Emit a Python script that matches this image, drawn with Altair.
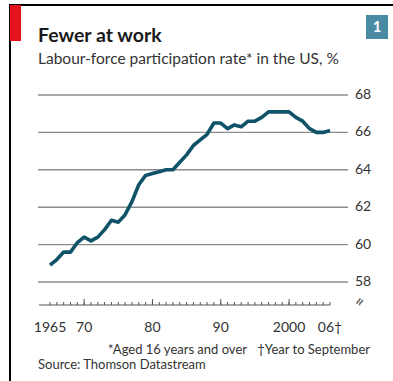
import altair as alt
import pandas as pd

years = list(range(1965, 2007))
rate = [58.9, 59.2, 59.6, 59.6, 60.1, 60.4, 60.2, 60.4, 60.8, 61.3,
        61.2, 61.6, 62.3, 63.2, 63.7, 63.8, 63.9, 64.0, 64.0, 64.4,
        64.8, 65.3, 65.6, 65.9, 66.5, 66.5, 66.2, 66.4, 66.3, 66.6,
        66.6, 66.8, 67.1, 67.1, 67.1, 67.1, 66.8, 66.6, 66.2, 66.0,
        66.0, 66.1]
y_ticks = [58, 60, 62, 64, 66, 68]
x_label_years = [1965, 1970, 1980, 1990, 2000, 2006]
x_label_text = ["1965", "70", "80", "90", "2000", "06\u2020"]
major_years = [1970, 1980, 1990, 2000]

FONT = "Lato"
xs = alt.Scale(domain=[1965, 2006], range=[50, 330])
ys = alt.Scale(domain=[58, 68], range=[282, 95])

df = pd.DataFrame({"year": years, "rate": rate})
grid_df = pd.DataFrame({"v": y_ticks, "label": [str(v) for v in y_ticks]})
xl_df = pd.DataFrame({"year": x_label_years, "label": x_label_text})
minor_df = pd.DataFrame({"year": years})
major_df = pd.DataFrame({"year": major_years})
one = pd.DataFrame({"a": [0]})

grid = alt.Chart(grid_df).mark_rule(color="#8c8c8c", strokeWidth=1.4).encode(
    y=alt.Y("v:Q", scale=ys, axis=None),
    x=alt.value(38), x2=alt.value(348))
ylab = alt.Chart(grid_df).mark_text(align="left", baseline="middle", font=FONT,
                                     fontSize=14, color="#333333").encode(
    y=alt.Y("v:Q", scale=ys, axis=None), x=alt.value(355), text="label:N")

line = alt.Chart(df).mark_line(color="#105369", strokeWidth=3.6,
                               strokeJoin="round").encode(
    x=alt.X("year:Q", scale=xs, axis=None),
    y=alt.Y("rate:Q", scale=ys, axis=None))

base = alt.Chart(one).mark_rule(color="#555555", strokeWidth=1.2).encode(
    x=alt.value(39), x2=alt.value(330), y=alt.value(305))
minor = alt.Chart(minor_df).mark_rule(color="#555555", strokeWidth=1).encode(
    x=alt.X("year:Q", scale=xs, axis=None), y=alt.value(302), y2=alt.value(305))
major = alt.Chart(major_df).mark_rule(color="#555555", strokeWidth=1).encode(
    x=alt.X("year:Q", scale=xs, axis=None), y=alt.value(299), y2=alt.value(305))
xlab = alt.Chart(xl_df).mark_text(align="center", baseline="alphabetic", font=FONT,
                                   fontSize=14, color="#333333").encode(
    x=alt.X("year:Q", scale=xs, axis=None), y=alt.value(332), text="label:N")
brk = alt.Chart(one).mark_text(text="\u2248", font=FONT, fontSize=16, fontWeight="bold",
                               color="#666666", angle=300, align="center",
                               baseline="middle").encode(
    x=alt.value(360), y=alt.value(302))

def txt(s, x, y, size, weight="normal", color="#333333", align="left"):
    return alt.Chart(one).mark_text(text=s, font=FONT, fontSize=size, fontWeight=weight,
                                    color=color, align=align,
                                    baseline="alphabetic").encode(
        x=alt.value(x), y=alt.value(y))

title = txt("Fewer at work", 38, 42, 19.5, "bold", "#1a1a1a")
sub = txt("Labour-force participation rate* in the US, %", 38, 64, 15.5)
foot1 = txt("*Aged 16 years and over", 247, 354, 13, align="right")
foot2 = txt("\u2020Year to September", 370, 354, 13, align="right")
src = txt("Source: Thomson Datastream", 38, 369, 13)

top_rule = alt.Chart(one).mark_rule(color="#000000", strokeWidth=2).encode(
    x=alt.value(9), x2=alt.value(393), y=alt.value(5))
left_rule = alt.Chart(one).mark_rule(color="#000000", strokeWidth=2).encode(
    x=alt.value(10), y=alt.value(5), y2=alt.value(381))
red = alt.Chart(one).mark_rect(color="#e3121b").encode(
    x=alt.value(10), x2=alt.value(21), y=alt.value(5), y2=alt.value(41))
box = alt.Chart(one).mark_rect(color="#4a8aa2").encode(
    x=alt.value(366), x2=alt.value(388), y=alt.value(15), y2=alt.value(39))
box_t = alt.Chart(one).mark_text(text="1", font=FONT, fontSize=15, fontWeight="bold",
                                 color="white", align="center",
                                 baseline="middle").encode(
    x=alt.value(377), y=alt.value(27))

chart = alt.layer(
    grid, ylab, base, minor, major, xlab, brk, line,
    title, sub, foot1, foot2, src, top_rule, left_rule, red, box, box_t
).properties(
    width=393, height=381, padding=0, autosize=alt.AutoSizeParams(type="none"),
    background="white"
).configure_view(stroke=None)

chart.save("out.html", embed_options={"renderer": "svg", "actions": False})
